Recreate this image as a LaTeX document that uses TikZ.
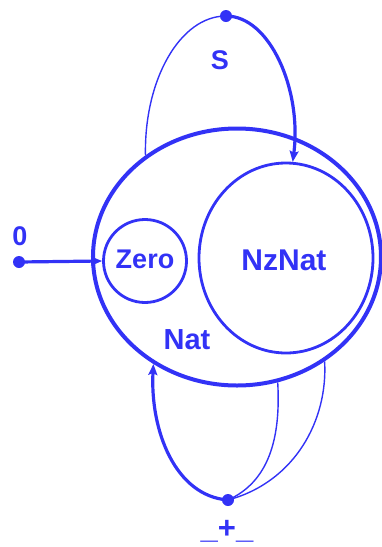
\documentclass[tikz,border=0pt]{standalone}
\usepackage{fontspec}
\setmainfont{Liberation Sans}
\usetikzlibrary{shapes.geometric,arrows.meta}
\definecolor{sblue}{RGB}{50,50,246}
\tikzset{
  setline/.style={draw=sblue, line width=4pt},
  subline/.style={draw=sblue, line width=2.8pt},
  lbl/.style={text=sblue, font=\bfseries\fontsize{27}{30}\selectfont, inner sep=0pt},
  opdot/.style={circle, fill=sblue, minimum size=12pt, inner sep=0pt},
  thickarr/.style={draw=sblue, line width=3.2pt, -{Stealth[length=11pt,width=9pt,inset=2pt]}},
  thinarg/.style={draw=sblue, line width=1.4pt},
}
\begin{document}
\begin{tikzpicture}[x=1pt,y=-1pt]
\useasboundingbox (0,0) rectangle (382,547);
% sets
\node[setline, ellipse, minimum width=288pt, minimum height=257pt, inner sep=0pt] (nat) at (237,257) {};
\node[subline, circle, minimum size=83pt, inner sep=0pt] (zero) at (145,261) {};
\node[lbl] (zerot) at (145,259) {Zero};
\node[subline, ellipse, minimum width=174pt, minimum height=190pt, inner sep=0pt] (nz) at (286,258) {};
\node[lbl, font=\bfseries\fontsize{30}{33}\selectfont] (nzt) at (284,260) {NzNat};
\node[lbl, font=\bfseries\fontsize{29}{32}\selectfont] (natt) at (187,340) {Nat};
% operators
\node[opdot] (s) at (226,16) {};
\node[lbl] (st) at (220,60) {S};
\node[opdot] (z0) at (19,262) {};
\node[lbl] (z0t) at (20,236) {0};
\node[opdot] (plus) at (228,500) {};
\node[lbl, font=\bfseries\fontsize{31}{34}\selectfont] (plust) at (227,531) {\_+\_};
% connectors
\draw[thinarg] (nat.132.6) .. controls (144,80) and (180,16) .. (s.center);
\draw[thickarr] (s.center) .. controls (270,16) and (302,90) .. (nz.86);
\draw[thickarr] (z0.center) -- (zero.west);
\draw[thickarr] (plus.center) .. controls (175,496) and (150,430) .. (nat.232);
\draw[thinarg] (nat.288) .. controls (281,440) and (268,482) .. (plus.center);
\draw[thinarg] (nat.310) .. controls (328,420) and (295,482) .. (plus.center);
\end{tikzpicture}
\end{document}
